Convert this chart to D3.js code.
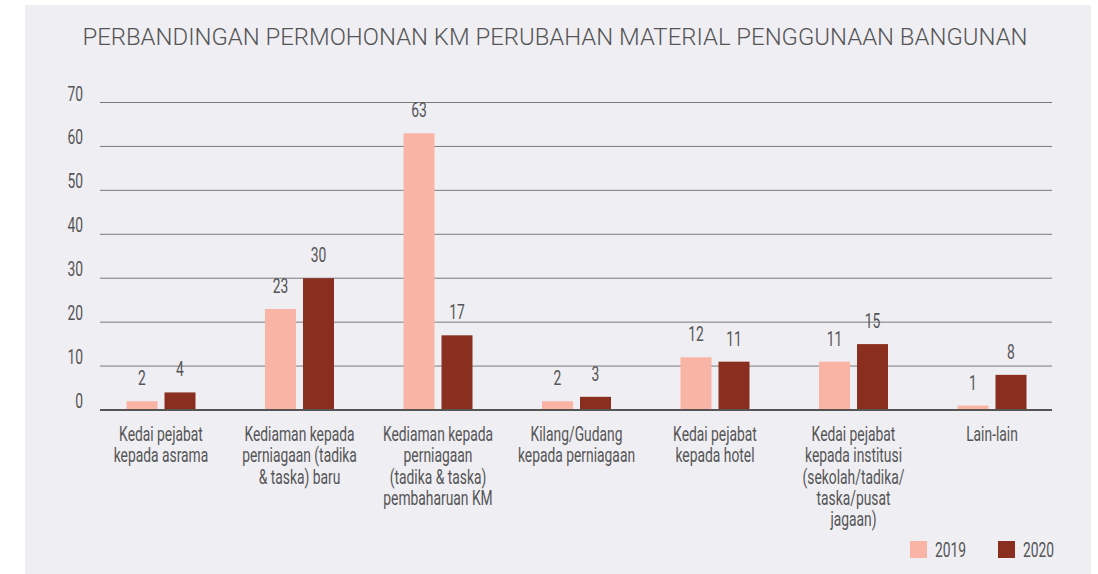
<!DOCTYPE html>
<html>
<head>
<meta charset="utf-8">
<script src="https://cdn.jsdelivr.net/npm/d3@7"></script>
<style>
  body { margin: 0; background: #fff; }
  svg text { fill: #555; }
  .narrow { font-family: Roboto, sans-serif; font-weight: 400; font-size: 19.5px; }
</style>
</head>
<body>
<svg id="chart" width="1098" height="574"></svg>
<script>
// data
let categories = [
  ["Kedai pejabat", "kepada asrama"],
  ["Kediaman kepada", "perniagaan (tadika", "& taska) baru"],
  ["Kediaman kepada", "perniagaan", "(tadika & taska)", "pembaharuan KM"],
  ["Kilang/Gudang", "kepada perniagaan"],
  ["Kedai pejabat", "kepada hotel"],
  ["Kedai pejabat", "kepada institusi", "(sekolah/tadika/", "taska/pusat", "jagaan)"],
  ["Lain-lain"]
];
let years = ["2019", "2020"];
let values2019 = [2, 23, 63, 2, 12, 11, 1];
let values2020 = [4, 30, 17, 3, 11, 15, 8];
let yTicks = [0, 10, 20, 30, 40, 50, 60, 70];
let colors = ["#f9b4a6", "#8a2e1f"];

// no condensed font installed, so squeeze the text sideways
let squeeze = 0.71;
let place = (px, py) => `translate(${px},${py}) scale(${squeeze},1)`;

let svg = d3.select("#chart");

// panel
svg.append("rect")
  .attr("x", 25).attr("y", 5)
  .attr("width", 1066).attr("height", 569)
  .attr("fill", "#efeef3");

svg.append("text")
  .attr("x", 555).attr("y", 45)
  .attr("text-anchor", "middle")
  .style("font-family", "Roboto, sans-serif")
  .style("font-weight", 300)
  .style("font-size", "23.9px")
  .text("PERBANDINGAN PERMOHONAN KM PERUBAHAN MATERIAL PENGGUNAAN BANGUNAN");

let idx = d3.range(categories.length);
let x = d3.scaleBand().domain(idx).range([91.75, 1061.25]);
let xInner = d3.scaleBand().domain(years).range([34.75, 103.75]).paddingInner(7 / 38);
let y = d3.scaleLinear().domain([0, 70]).range([410, 102.5]);

// grid
let grid = svg.append("g");
grid.selectAll("line")
  .data(yTicks)
  .join("line")
  .attr("x1", 100).attr("x2", 1052)
  .attr("y1", (d) => y(d)).attr("y2", (d) => y(d))
  .attr("stroke", (d) => (d == 0 ? "#555" : "#7a7a7a"))
  .attr("stroke-width", (d) => (d == 0 ? 2 : 1));

grid.selectAll("text")
  .data(yTicks)
  .join("text")
  .attr("class", "narrow")
  .attr("transform", (d) => place(83, y(d) - 2))
  .attr("text-anchor", "end")
  .text((d) => d);

// bars
let rows = idx.map((i) => [
  { year: "2019", i: i, v: values2019[i] },
  { year: "2020", i: i, v: values2020[i] }
]);

let groups = svg.append("g")
  .selectAll("g")
  .data(rows)
  .join("g")
  .attr("transform", (d, i) => `translate(${x(i)},0)`);

groups.selectAll("rect")
  .data((d) => d)
  .join("rect")
  .attr("x", (d) => xInner(d.year))
  .attr("width", xInner.bandwidth())
  .attr("y", (d) => y(d.v))
  .attr("height", (d) => y(0) - y(d.v) - 1)
  .attr("fill", (d, j) => colors[j]);

groups.selectAll("text")
  .data((d) => d)
  .join("text")
  .attr("class", "narrow")
  .attr("transform", (d) => place(xInner(d.year) + xInner.bandwidth() / 2, y(d.v) - 16))
  .attr("text-anchor", "middle")
  .text((d) => d.v);

// category labels
svg.append("g")
  .selectAll("text")
  .data(categories)
  .join("text")
  .attr("class", "narrow")
  .attr("text-anchor", "middle")
  .attr("transform", (d, i) => place(x(i) + x.bandwidth() / 2, 441))
  .selectAll("tspan")
  .data((d) => d)
  .join("tspan")
  .attr("x", 0)
  .attr("dy", (d, j) => (j == 0 ? 0 : 21.3))
  .text((d) => d);

// legend
let legend = svg.append("g")
  .selectAll("g")
  .data(years)
  .join("g")
  .attr("transform", (d, i) => `translate(${910 + i * 88},541)`);

legend.append("rect")
  .attr("width", 17).attr("height", 17)
  .attr("fill", (d, i) => colors[i]);

legend.append("text")
  .attr("class", "narrow")
  .attr("transform", place(25, 16))
  .text((d) => d);
</script>
</body>
</html>
